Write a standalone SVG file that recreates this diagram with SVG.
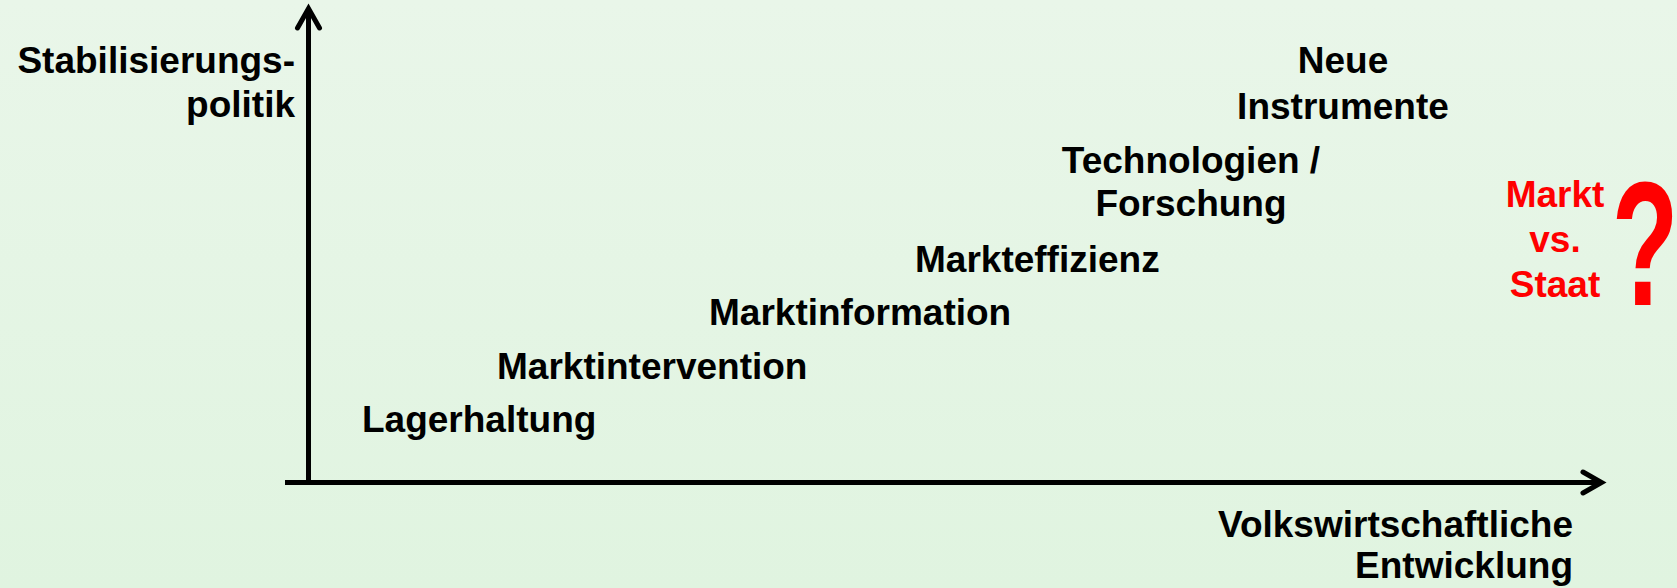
<svg xmlns="http://www.w3.org/2000/svg" width="1677" height="588" viewBox="0 0 1677 588">
<defs>
<linearGradient id="bg" x1="0" y1="0" x2="0" y2="1">
<stop offset="0" stop-color="#e9f6e9"/>
<stop offset="1" stop-color="#e0f4e0"/>
</linearGradient>
<style>
.t{font-family:"Liberation Sans",Arial,sans-serif;font-weight:bold;font-size:37px;fill:#000}
.r{fill:#ff0000}
.ax{fill:none;stroke:#000;stroke-width:5}
.ah{fill:none;stroke:#000;stroke-width:5;stroke-linecap:round;stroke-linejoin:miter}
</style>
</defs>
<rect x="0" y="0" width="1677" height="588" fill="url(#bg)"/>
<g id="connectors">
<line class="ax" x1="308.5" y1="485" x2="308.5" y2="10"/>
<polyline class="ah" points="297.5,28 308.5,8.5 319.5,28"/>
<line class="ax" x1="285" y1="482.5" x2="1600" y2="482.5"/>
<polyline class="ah" points="1583,472 1601.5,482.5 1583,493"/>
</g>
<g id="y-label"><text class="t" text-anchor="end" x="295" y="73">Stabilisierungs-</text><text class="t" text-anchor="end" x="295" y="117">politik</text></g>
<g id="x-label"><text class="t" text-anchor="end" x="1573" y="537">Volkswirtschaftliche</text><text class="t" text-anchor="end" x="1573" y="578">Entwicklung</text></g>
<g id="lagerhaltung"><text class="t" x="362" y="432">Lagerhaltung</text></g>
<g id="marktintervention"><text class="t" x="497" y="379">Marktintervention</text></g>
<g id="marktinformation"><text class="t" x="709" y="325">Marktinformation</text></g>
<g id="markteffizienz"><text class="t" x="915" y="272">Markteffizienz</text></g>
<g id="technologien"><text class="t" text-anchor="middle" x="1191" y="173">Technologien /</text><text class="t" text-anchor="middle" x="1191" y="216">Forschung</text></g>
<g id="neue-instrumente"><text class="t" text-anchor="middle" x="1343" y="73">Neue</text><text class="t" text-anchor="middle" x="1343" y="119">Instrumente</text></g>
<g id="markt-vs-staat"><text class="t r" text-anchor="middle" x="1555" y="207">Markt</text><text class="t r" text-anchor="middle" x="1555" y="252">vs.</text><text class="t r" text-anchor="middle" x="1555" y="297">Staat</text></g>
<g id="question"><text class="t r" text-anchor="middle" transform="translate(1645,305) scale(0.62,1)" style="font-size:176px">?</text></g>
</svg>
